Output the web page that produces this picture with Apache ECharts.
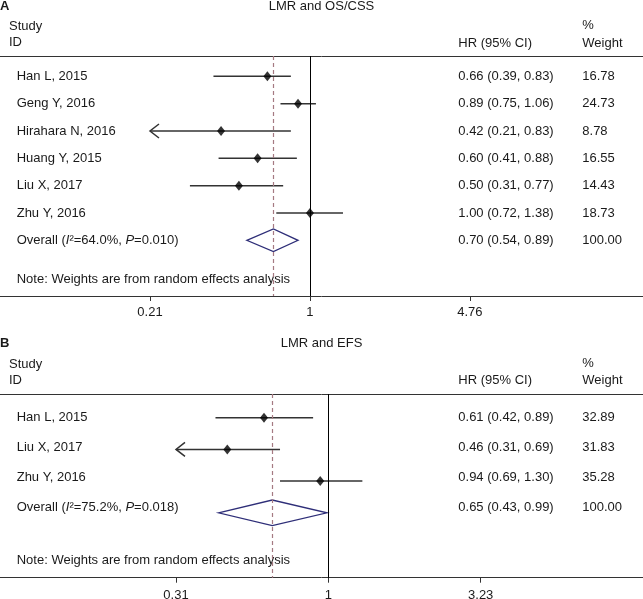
<!DOCTYPE html>
<html><head><meta charset="utf-8">
<script src="https://cdn.jsdelivr.net/npm/echarts@6/dist/echarts.min.js"></script>
<style>html,body{margin:0;padding:0;background:#fff}#c{width:643px;height:599px}</style>
</head><body><div id="c"></div>
<script>
// ---------- Panel A data ----------
const titleA = 'LMR and OS/CSS';
const studiesA = ['Han L, 2015', 'Geng Y, 2016', 'Hirahara N, 2016', 'Huang Y, 2015', 'Liu X, 2017', 'Zhu Y, 2016'];
const hrA = [0.66, 0.89, 0.42, 0.60, 0.50, 1.00];
const loA = [0.39, 0.75, 0.21, 0.41, 0.31, 0.72];
const hiA = [0.83, 1.06, 0.83, 0.88, 0.77, 1.38];
const weightA = ['16.78', '24.73', '8.78', '16.55', '14.43', '18.73'];
const overallA = [0.70, 0.54, 0.89];      // HR, lower, upper
const overallWeightA = '100.00';
const hetA = ['64.0%', '0.010'];          // I², P
const ticksA = [0.21, 1, 4.76];
const tickLabelsA = ['0.21', '1', '4.76'];

// ---------- Panel B data ----------
const titleB = 'LMR and EFS';
const studiesB = ['Han L, 2015', 'Liu X, 2017', 'Zhu Y, 2016'];
const hrB = [0.61, 0.46, 0.94];
const loB = [0.42, 0.31, 0.69];
const hiB = [0.89, 0.69, 1.30];
const weightB = ['32.89', '31.83', '35.28'];
const overallB = [0.65, 0.43, 0.99];
const overallWeightB = '100.00';
const hetB = ['75.2%', '0.018'];
const ticksB = [0.31, 1, 3.23];
const tickLabelsB = ['0.31', '1', '3.23'];

const noteText = 'Note: Weights are from random effects analysis';

// ---------- styling / layout ----------
const FONT = '"Liberation Sans", Arial, Helvetica, sans-serif';
const TXT = '#1a1a1a';
const LINE = '#333';
const CI = '#333';
const DIAM = '#2e2e78';
const DASH = '#a57a82';
const W = 643;
const L = Math.log;

const layoutA = { top: 56, h: 240, xMin: -3.024, xMax: 3.249, rMin: 0.257, rMax: 9.038, tMin: 0.257, tMax: 9.038, dh: 11.3, lblMargin: 10,
  letter: 'A', letterY: 6, studyY: 26.7, idY: 42.7, pctY: 25, hdrY: 43, noteY: 279.3 };
const layoutB = { top: 394, h: 183.7, xMin: -2.525, xMax: 2.421, rMin: 0.252, rMax: 6.047, tMin: 0.204, tMax: 6.375, dh: 12.8, lblMargin: 11,
  letter: 'B', letterY: 343.3, studyY: 364.3, idY: 380.3, pctY: 363.5, hdrY: 380.7, noteY: 560 };

const option = { animation: false, backgroundColor: '#fff', grid: [], xAxis: [], yAxis: [], series: [], graphic: [] };

function txt(text, x, y, extra) {
  return { type: 'text', x: x, y: y, silent: true,
    style: Object.assign({ text: text, fontSize: 13, fontFamily: FONT, fill: TXT,
      align: 'left', verticalAlign: 'middle', textAlign: 'left', textVerticalAlign: 'middle' }, extra || {}) };
}

function addPanel(g, lay, title, studies, hr, lo, hi, wt, ov, ovW, het, ticks, tickLabels) {
  const n = studies.length;
  option.grid.push({ left: 0, right: 0, top: lay.top, height: lay.h, containLabel: false, outerBoundsMode: 'none' });
  const tv = ticks.map(L);
  const baseLbl = { fontSize: 13, fontFamily: FONT, color: TXT };
  option.xAxis.push({
    gridIndex: g, type: 'value', min: lay.xMin, max: lay.xMax, position: 'bottom',
    axisLine: { onZero: false, lineStyle: { color: LINE, width: 1 } },
    axisTick: { show: true, customValues: tv, length: 5, lineStyle: { color: LINE, width: 1 } },
    axisLabel: Object.assign({ customValues: tv, margin: lay.lblMargin,
      formatter: v => { let k = 0, best = 1e9; tv.forEach((t, i) => { const d = Math.abs(t - v); if (d < best) { best = d; k = i; } }); return tickLabels[k]; } }, baseLbl),
    splitLine: { show: false }
  });
  option.xAxis.push({
    gridIndex: g, type: 'value', min: lay.xMin, max: lay.xMax, position: 'top',
    axisLine: { onZero: false, lineStyle: { color: LINE, width: 1 } },
    axisTick: { show: false }, axisLabel: { show: false }, splitLine: { show: false }
  });
  const rows = studies.map((s, i) => i + 1).concat([n + 1]);
  // marks axis
  option.yAxis.push({ gridIndex: g, type: 'value', min: lay.rMin, max: lay.rMax, inverse: true, show: false, position: 'left' });
  const richStyles = {
    n: { fontSize: 13, fontFamily: FONT, color: TXT },
    i: { fontSize: 13, fontFamily: FONT, color: TXT, fontStyle: 'italic' },
    h: { fontSize: 13, fontFamily: FONT, color: TXT, width: 124, align: 'left' },
    w: { fontSize: 13, fontFamily: FONT, color: TXT }
  };
  // left text column
  option.yAxis.push({
    gridIndex: g, type: 'value', min: lay.tMin, max: lay.tMax, inverse: true, position: 'left',
    axisLine: { show: false }, axisTick: { show: false }, splitLine: { show: false },
    axisLabel: Object.assign({ inside: true, margin: 16.7, align: 'left', customValues: rows, rich: richStyles,
      formatter: v => {
        const k = Math.round(v);
        if (k <= n) return '{n|' + studies[k - 1] + '}';
        return '{n|Overall (}{i|I}{n|²=' + het[0] + ', }{i|P}{n|=' + het[1] + ')}';
      } }, baseLbl)
  });
  // right text columns
  const fmt = x => x.toFixed(2);
  option.yAxis.push({
    gridIndex: g, type: 'value', min: lay.tMin, max: lay.tMax, inverse: true, position: 'right',
    axisLine: { show: false }, axisTick: { show: false }, splitLine: { show: false },
    axisLabel: Object.assign({ inside: true, margin: W - 458.3, align: 'left', customValues: rows, rich: richStyles,
      formatter: v => {
        const k = Math.round(v);
        if (k <= n) return '{h|' + fmt(hr[k - 1]) + ' (' + fmt(lo[k - 1]) + ', ' + fmt(hi[k - 1]) + ')}{w|' + wt[k - 1] + '}';
        return '{h|' + fmt(ov[0]) + ' (' + fmt(ov[1]) + ', ' + fmt(ov[2]) + ')}{w|' + ovW + '}';
      } }, baseLbl)
  });
  const xi = 2 * g, yi = 3 * g;
  // CI lines (with arrow when truncated at the lowest tick)
  option.series.push({
    type: 'custom', xAxisIndex: xi, yAxisIndex: yi, silent: true,
    data: studies.map((s, i) => [L(lo[i]), L(hi[i]), i + 1, lo[i] <= ticks[0] ? 1 : 0]),
    renderItem: (params, api) => {
      const a = api.coord([api.value(0), api.value(2)]);
      const b = api.coord([api.value(1), api.value(2)]);
      const ch = [{ type: 'line', shape: { x1: a[0], y1: a[1], x2: b[0], y2: b[1] }, style: { stroke: CI, lineWidth: 1.5 } }];
      if (api.value(3)) ch.push({ type: 'polyline', shape: { points: [[a[0] + 9, a[1] - 7], [a[0], a[1]], [a[0] + 9, a[1] + 7]] },
        style: { stroke: CI, lineWidth: 1.5, fill: null } });
      return { type: 'group', children: ch };
    }
  });
  // point estimates + reference lines
  option.series.push({
    type: 'scatter', xAxisIndex: xi, yAxisIndex: yi, silent: true,
    data: hr.map((v, i) => [L(v), i + 1]), symbol: 'diamond', symbolSize: [8, 10],
    itemStyle: { color: '#000' },
    markLine: { silent: true, symbol: ['none', 'none'], label: { show: false },
      data: [
        { xAxis: 0, lineStyle: { color: '#000', type: 'solid', width: 1 } },
        { xAxis: L(ov[0]), lineStyle: { color: DASH, type: [4, 3], width: 1.2 } }
      ] }
  });
  // overall diamond
  option.series.push({
    type: 'custom', xAxisIndex: xi, yAxisIndex: yi, silent: true,
    data: [[L(ov[1]), L(ov[0]), L(ov[2]), n + 1]],
    renderItem: (params, api) => {
      const p1 = api.coord([api.value(0), api.value(3)]);
      const pc = api.coord([api.value(1), api.value(3)]);
      const p2 = api.coord([api.value(2), api.value(3)]);
      const d = lay.dh;
      return { type: 'polygon', shape: { points: [p1, [pc[0], pc[1] - d], p2, [pc[0], pc[1] + d]] },
        style: { stroke: DIAM, lineWidth: 1.3, fill: 'rgba(0,0,0,0)' } };
    }
  });
  // headers / titles / note
  option.graphic.push(
    txt(lay.letter, 0, lay.letterY, { fontWeight: 'bold' }),
    txt(title, W / 2, lay.letterY, { align: 'center', textAlign: 'center' }),
    txt('Study', 9, lay.studyY),
    txt('ID', 9, lay.idY),
    txt('HR (95% CI)', 458.3, lay.hdrY),
    txt('%', 582.3, lay.pctY),
    txt('Weight', 582.3, lay.hdrY),
    txt(noteText, 16.7, lay.noteY)
  );
}

addPanel(0, layoutA, titleA, studiesA, hrA, loA, hiA, weightA, overallA, overallWeightA, hetA, ticksA, tickLabelsA);
addPanel(1, layoutB, titleB, studiesB, hrB, loB, hiB, weightB, overallB, overallWeightB, hetB, ticksB, tickLabelsB);

const chart = echarts.init(document.getElementById('c'), null, { renderer: 'canvas' });
chart.setOption(option);
</script>
</body></html>
